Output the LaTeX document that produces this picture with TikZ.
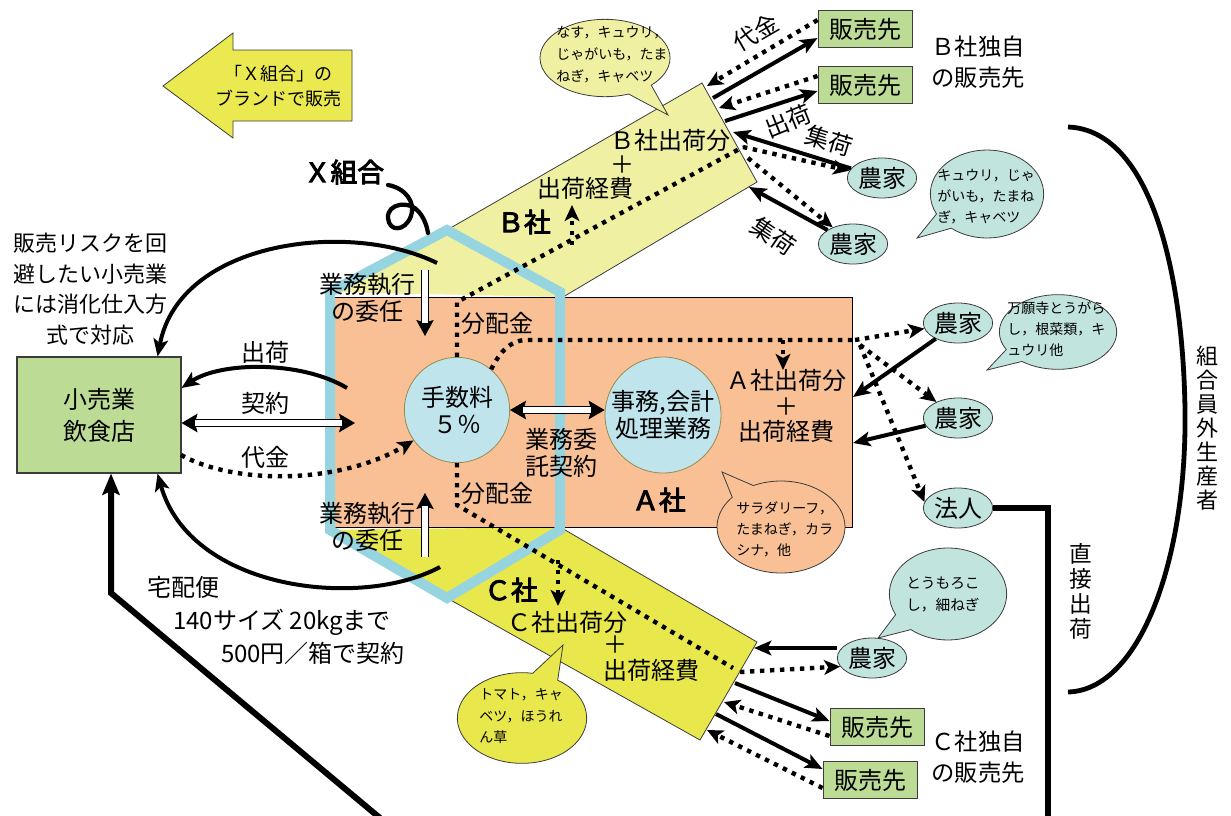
\documentclass[tikz,border=0pt]{standalone}
\usepackage{fontspec}
\setmainfont{Noto Sans CJK JP}
\newfontfamily\jpbold{Noto Sans CJK JP}[FakeBold=3.5]
\usetikzlibrary{arrows.meta,shapes.geometric,shapes.callouts,calc}
\definecolor{bandB}{RGB}{240,240,162}
\definecolor{bandC}{RGB}{232,232,76}
\definecolor{salmon}{RGB}{248,192,148}
\definecolor{hexblue}{RGB}{150,212,224}
\definecolor{circblue}{RGB}{192,228,236}
\definecolor{farmteal}{RGB}{194,228,222}
\definecolor{shopgreen}{RGB}{188,220,150}
\definecolor{arrowyel}{RGB}{234,234,80}
\definecolor{edgegray}{RGB}{60,60,60}
\definecolor{circedge}{RGB}{150,140,80}
\tikzset{
  lab/.style={font=\fontsize{18}{20}\selectfont, inner sep=0pt, align=center},
  boldlab/.style={font=\fontsize{20}{22}\selectfont\jpbold, inner sep=0pt},
  bubtext/.style={font=\fontsize{10.5}{15.8}\selectfont, align=left, inner sep=0pt, anchor=west},
  solidar/.style={line width=3pt, -{Stealth[length=13pt,width=11pt,inset=3pt]}},
  dotln/.style={line width=3.3pt, dash pattern=on 3.3pt off 4.2pt},
  dotar/.style={dotln, -{Stealth[length=12pt,width=11pt,inset=3pt]}},
  farm/.style={ellipse, draw=edgegray, line width=0.6pt, fill=farmteal, inner sep=0pt, minimum width=52pt, minimum height=30pt, font=\fontsize{18}{20}\selectfont},
  shop/.style={rectangle, draw=edgegray, line width=0.7pt, fill=shopgreen, inner sep=0pt, minimum width=70.5pt, minimum height=27.5pt, font=\fontsize{18}{20}\selectfont},
  bub/.style={ellipse callout, draw=edgegray, line width=0.6pt, inner sep=0pt, callout pointer arc=24},
  wshaft/.style={double=white, double distance=4.5pt, line width=1pt},
  bhead/.style={line width=0.8pt, -{Stealth[length=12pt,width=13pt,inset=2pt]}},
  bhead2/.style={line width=0.8pt, {Stealth[length=12pt,width=14pt,inset=2pt]}-{Stealth[length=12pt,width=14pt,inset=2pt]}},
}
\begin{document}
\begin{tikzpicture}[x=0.75pt,y=-0.75pt]
\useasboundingbox (0,0) rectangle (1231,815);
% key coordinates
\coordinate (hT) at (447,230);
\coordinate (hUR) at (560,292);
\coordinate (hLR) at (560,530);
\coordinate (hB) at (447,598);
\coordinate (hLL) at (330,530);
\coordinate (hUL) at (330,292);
\coordinate (bTR) at (702,83);
\coordinate (bBR) at (757,182);
\coordinate (bBL) at (563,297);
\coordinate (cTL) at (560,527);
\coordinate (cTR) at (757,642);
\coordinate (cBR) at (700,740);
\coordinate (aNW) at (333,297);
\coordinate (aSE) at (852,527);

% brand arrow
\filldraw[fill=arrowyel, draw=edgegray, line width=0.6pt] (163,86) -- (233,33) -- (233,50) -- (352,50) -- (352,121) -- (233,121) -- (233,138) -- cycle;
\node[lab, font=\fontsize{13.5}{19}\selectfont] (brand) at (278,86) {「Ｘ組合」の\\ブランドで販売};

% bands, A box, hexagon
\fill[bandB] (hUL) -- (hT) -- (bTR) -- (bBR) -- (bBL) -- cycle;
\draw[edgegray, line width=0.6pt] (hT) -- (bTR) -- (bBR) -- (bBL);
\fill[bandC] (hLL) -- (cTL) -- (cTR) -- (cBR) -- (hB) -- cycle;
\draw[edgegray, line width=0.6pt] (cTL) -- (cTR) -- (cBR) -- (hB);
\filldraw[fill=salmon, draw=black, line width=0.6pt] (aNW) rectangle (aSE);
\draw[hexblue, line width=7.5pt, line join=miter] (hT) -- (hUR) -- (hLR) -- (hB) -- (hLL) -- (hUL) -- cycle;

% bubbles
\node[bub, fill=bandB, minimum width=97.5pt, minimum height=58pt, callout absolute pointer={(668,115)}] (bubB) at (605,58) {};
\node[bubtext, font=\fontsize{10.5}{16.5}\selectfont] (tbubB) at (556,55) {なす，キュウリ，\\じゃがいも，たま\\ねぎ，キャベツ};
\node[bub, fill=farmteal, minimum width=85pt, minimum height=66pt, callout absolute pointer={(917,238)}] (bubFB) at (987,194) {};
\node[bubtext] (tbubFB) at (937,197) {キュウリ，じゃ\\がいも，たまね\\ぎ，キャベツ};
\node[bub, fill=farmteal, minimum width=88pt, minimum height=56pt, callout absolute pointer={(987,370)}] (bubFA) at (1058,332) {};
\node[bubtext] (tbubFA) at (1007,329) {万願寺とうがら\\し，根菜類，キ\\ュウリ他};
\node[bub, fill=salmon, minimum width=96pt, minimum height=69pt, callout absolute pointer={(722,472)}] (bubA) at (781,527) {};
\node[bubtext] (tbubA) at (736,529) {サラダリーフ，\\たまねぎ，カラ\\シナ，他};
\node[bub, fill=farmteal, minimum width=88pt, minimum height=69pt, callout absolute pointer={(878,638)}] (bubFC) at (948,594) {};
\node[bubtext, font=\fontsize{11}{16.5}\selectfont] (tbubFC) at (906,594) {とうもろこ\\し，細ねぎ};
\node[bub, fill=bandC, minimum width=97pt, minimum height=68pt, callout absolute pointer={(563,645)}] (bubC) at (522,718) {};
\node[bubtext] (tbubC) at (479,716) {トマト，キャ\\ベツ，ほうれ\\ん草};

% circles
\node[circle, draw=circedge, line width=0.6pt, fill=circblue, minimum size=79pt, inner sep=0pt, lab] (fee) at (457,410) {手数料\\５％};
\node[circle, draw=circedge, line width=0.6pt, fill=circblue, minimum size=87pt, inner sep=0pt, lab] (jimu) at (663,415) {事務,会計\\処理業務};

% farms, shops, retail
\node[farm] (fB1) at (882,178) {農家};
\node[farm] (fB2) at (853,244) {農家};
\node[farm] (fA1) at (958,323) {農家};
\node[farm] (fA2) at (958,418) {農家};
\node[farm] (hojin) at (958,508) {法人};
\node[farm] (fC) at (872,658) {農家};
\node[shop] (sB1) at (865,29) {販売先};
\node[shop] (sB2) at (865,85) {販売先};
\node[shop] (sC1) at (877,727) {販売先};
\node[shop] (sC2) at (870,780) {販売先};
\node[draw=edgegray, line width=0.8pt, fill=shopgreen, minimum width=123pt, minimum height=87pt, inner sep=0pt, align=center, font=\fontsize{18}{24}\selectfont] (retail) at (99,415) {小売業\\飲食店};

% texts
\node[lab, font=\fontsize{16.5}{23}\selectfont] (risk) at (90,289) {販売リスクを回\\避したい小売業\\には消化仕入方\\式で対応};
\node[boldlab] (xk) at (344,172) {Ｘ組合};
\node[lab] (task1) at (367,298) {業務執行\\の委任};
\node[lab] (task2) at (367,527) {業務執行\\の委任};
\node[lab] (dist1) at (497,323) {分配金};
\node[lab] (dist2) at (497,493) {分配金};
\node[lab] (itaku) at (561,453) {業務委\\託契約};
\node[lab] (Bship) at (670,140) {Ｂ社出荷分};
\node[lab] (Bplus) at (622,165) {＋};
\node[lab] (Bcost) at (585,188) {出荷経費};
\node[boldlab] (Blab) at (524,222) {Ｂ社};
\node[lab, font=\fontsize{18}{19}\selectfont] (Aship) at (786,406) {Ａ社出荷分\\＋\\出荷経費};
\node[boldlab] (Alab) at (659,500) {Ａ社};
\node[boldlab] (Clab) at (511,590) {Ｃ社};
\node[lab] (Cship) at (567,622) {Ｃ社出荷分};
\node[lab] (Cplus) at (615,645) {＋};
\node[lab] (Ccost) at (651,670) {出荷経費};
\node[lab, font=\fontsize{17.5}{23}\selectfont] (Bown) at (978,62) {Ｂ社独自\\の販売先};
\node[lab, font=\fontsize{17.5}{23}\selectfont] (Cown) at (978,757) {Ｃ社独自\\の販売先};
\node[lab, font=\fontsize{16.5}{18}\selectfont] (gaibu) at (1207,428) {組\\合\\員\\外\\生\\産\\者};
\node[lab, font=\fontsize{17}{18.8}\selectfont] (chok) at (1081,591) {直\\接\\出\\荷};
\node[lab] (lbS) at (265,352) {出荷};
\node[lab] (lbK) at (265,403) {契約};
\node[lab] (lbD) at (265,457) {代金};
\node[lab] (tk1) at (183,587) {宅配便};
\node[lab] (tk2) at (282,622) {140サイズ 20kgまで};
\node[lab] (tk3) at (313,653) {500円／箱で契約};
\node[lab, rotate=30] (lbBD) at (756,33) {代金};
\node[lab, rotate=22] (lbBS) at (788,121) {出荷};
\node[lab, rotate=-17] (lbBY1) at (829,141) {集荷};
\node[lab, rotate=-34] (lbBY2) at (774,236) {集荷};

% white arrows (業務執行の委任)
\coordinate (m1s) at (425,270); \coordinate (m1e) at (425,336);
\draw[bhead] (m1s) -- (m1e);
\draw[wshaft, shorten >=10pt] (m1s) -- (m1e);
\coordinate (m2s) at (425,557); \coordinate (m2e) at (425,493);
\draw[bhead] (m2s) -- (m2e);
\draw[wshaft, shorten >=10pt] (m2s) -- (m2e);
% 業務委託契約 double arrow
\coordinate (jw) at (fee.east -| jimu.west);
\draw[bhead2] (fee.east) -- (jw);
\draw[wshaft, shorten <=10pt, shorten >=10pt] (fee.east) -- (jw);

% internal dotted lines
\coordinate (dB0) at (457,302);
\coordinate (dBe) at (743,147);
\coordinate (dBe2) at (748,158);
\draw[dotln] (fee.north) -- (dB0) -- (dBe);
\draw[dotar] (dBe) -- (fB1);
\draw[dotar] (dBe2) -- (fB2);
\coordinate (dA1) at (527,340);
\coordinate (dA2) at (855,340);
\coordinate (dA3) at (860,345);
\draw[dotln] (fee.50) .. controls (500,352) and (510,340) .. (dA1) -- (dA2);
\draw[dotar] (dA2) -- (fA1);
\draw[dotar] (dA3) -- (fA2);
\draw[dotar] (dA3) -- (hojin.170);
\coordinate (dAd) at (783,340); \coordinate (dAdE) at (783,370);
\draw[dotar] (dAd) -- (dAdE);
\coordinate (dC0) at (457,505);
\coordinate (dCe) at (733,668);
\coordinate (dCe2) at (740,672);
\draw[dotln] (fee.south) -- (dC0) -- (dCe);
\draw[dotar] (dCe2) -- (fC.195);
\coordinate (bu1) at (572,245); \coordinate (bu2) at (572,205);
\draw[dotar] (bu1) -- (bu2);
\coordinate (cd1) at (558,560); \coordinate (cd2) at (558,606);
\draw[dotar] (cd1) -- (cd2);

% A side solid
\coordinate (aR1) at (853,397); \coordinate (aR2) at (853,443);
\draw[solidar] (fA1) -- (aR1);
\draw[solidar] (fA2) -- (aR2);
% B side
\coordinate (bE0) at (707,86);
\coordinate (bE1) at (713,98);
\coordinate (bE2) at (719,108);
\coordinate (bE3) at (725,121);
\coordinate (bE4) at (733,132);
\coordinate (bE5) at (749,187);
\draw[dotar] ($(sB1.west)+(0,-9)$) -- (bE0);
\draw[solidar] (bE1) -- ($(sB1.west)+(0,9)$);
\draw[dotar] ($(sB2.west)+(0,-9)$) -- (bE2);
\draw[solidar] (bE3) -- ($(sB2.west)+(0,6)$);
\draw[solidar] (fB1) -- (bE4);
\draw[solidar] (fB2) -- (bE5);
% C side
\coordinate (cR0) at (754,648);
\coordinate (cE1) at (735,683);
\coordinate (cE2) at (724,702);
\coordinate (cE3) at (716,714);
\coordinate (cE4) at (707,730);
\draw[solidar] (fC.west |- cR0) -- (cR0);
\draw[solidar] (cE1) -- ($(sC1.west)+(0,-6)$);
\draw[dotar] ($(sC1.west)+(0,9)$) -- (cE2);
\draw[solidar] (cE3) -- ($(sC2.west)+(0,-11)$);
\draw[dotar] ($(sC2.west)+(0,8)$) -- (cE4);

% left side
\coordinate (ls1) at (347,388);
\coordinate (lk1) at (355,423);
\coordinate (ld1) at (181,455);
\draw[solidar] (ls1) .. controls (300,360) and (220,362) .. (retail.east |- ls1);
\draw[bhead2] (retail.east |- lk1) -- (lk1);
\draw[wshaft, shorten <=10pt, shorten >=10pt] (retail.east |- lk1) -- (lk1);
\draw[dotar] (ld1) .. controls (240,487) and (345,482) .. (fee.215);
\coordinate (cv1) at (437,263);
\coordinate (cv2) at (440,567);
\draw[solidar] (cv1) .. controls (350,220) and (180,240) .. ($(retail.north east)+(-24,0)$);
\draw[solidar] (cv2) .. controls (360,610) and (190,590) .. ($(retail.south east)+(-24,0)$);
\coordinate (tq0) at (380,818);
\coordinate (tq1) at (111,593);
\draw[line width=4.5pt, line join=miter, -{Stealth[length=16pt,width=13pt,inset=3pt]}] (tq0) -- (tq1) -- (retail.south -| tq1);

% X組合 squiggle
\coordinate (sq0) at (388,185);
\coordinate (sq1) at (428,233);
\draw[line width=3.2pt, line cap=round] (sq0) .. controls (405,188) and (416,202) .. (411,216) .. controls (405,232) and (389,232) .. (388,218) .. controls (387,203) and (410,200) .. (419,212) .. controls (424,218) and (427,226) .. (sq1);

% right side: 法人 direct line and bracket
\coordinate (hj1) at (1048,508);
\coordinate (hj2) at (1048,820);
\draw[line width=4.5pt, line join=miter] (hojin.east) -- (hj1) -- (hj2);
\coordinate (br0) at (1068,127);
\coordinate (br1) at (1068,692);
\draw[line width=3.6pt] (br0) .. controls (1150,130) and (1183,270) .. (1185,410) .. controls (1187,560) and (1140,690) .. (br1);
\end{tikzpicture}
\end{document}
